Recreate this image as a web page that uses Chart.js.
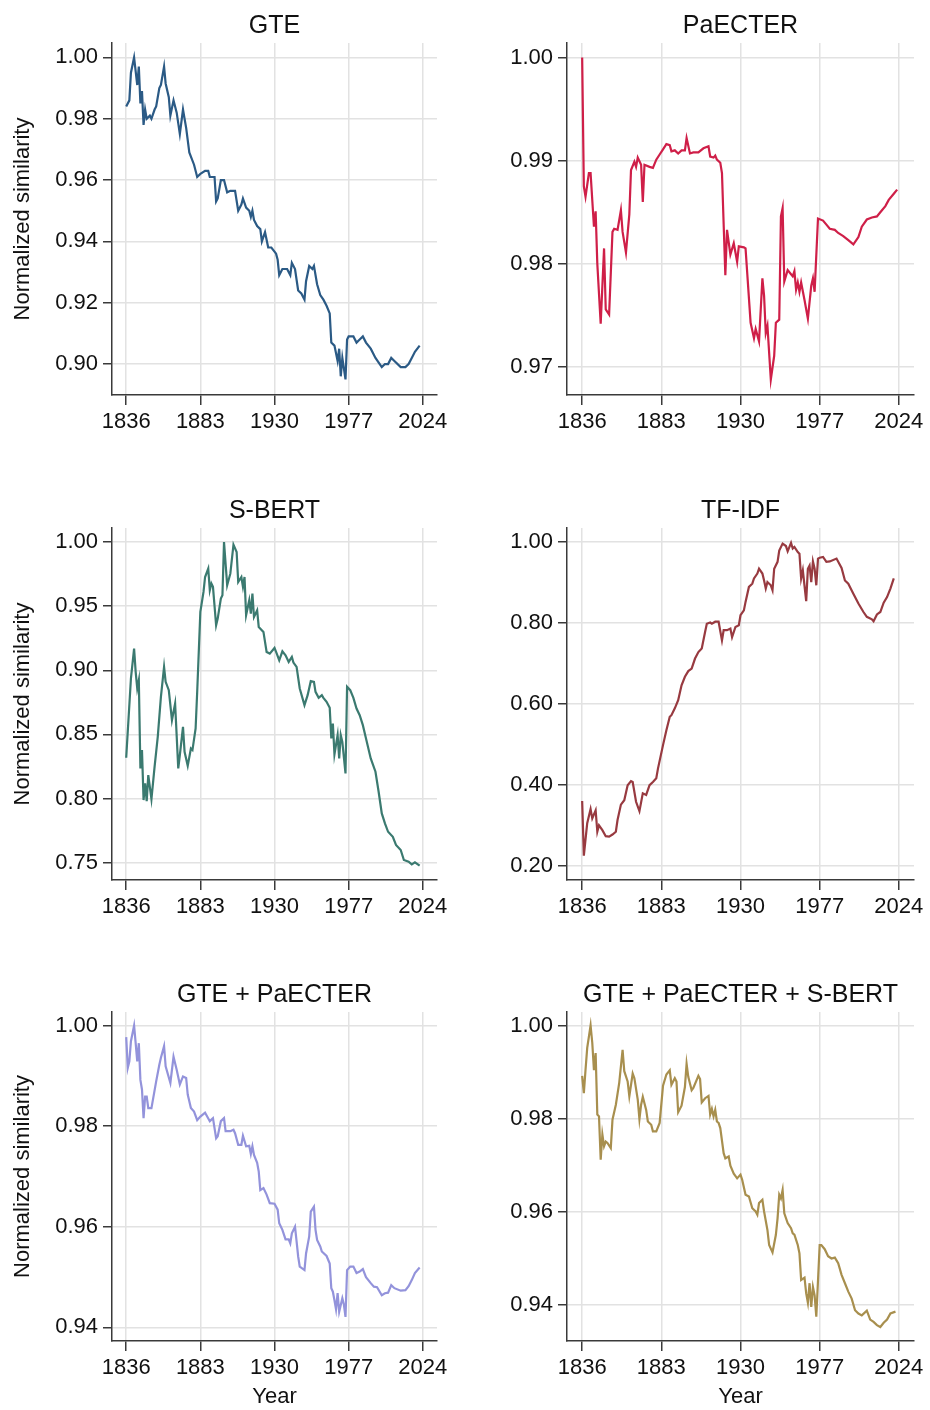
<!DOCTYPE html>
<html>
<head>
<meta charset="utf-8">
<title>Normalized similarity by year</title>
<script src="https://cdn.jsdelivr.net/npm/chart.js@4"></script>
<style>
  body { margin: 0; background: #fff; }
  #grid { position: relative; width: 930px; height: 1410px; }
  #grid canvas { position: absolute; }
</style>
</head>
<body>
<div id="grid">
  <canvas id="gte" width="465" height="440" style="left:0;top:0"></canvas>
  <canvas id="paecter" width="465" height="440" style="left:465px;top:0"></canvas>
  <canvas id="sbert" width="465" height="440" style="left:0;top:485px"></canvas>
  <canvas id="tfidf" width="465" height="440" style="left:465px;top:485px"></canvas>
  <canvas id="gte_paecter" width="465" height="441" style="left:0;top:969px"></canvas>
  <canvas id="gte_paecter_sbert" width="465" height="441" style="left:465px;top:969px"></canvas>
</div>
<script>
const FONT = '"Liberation Sans", Arial, Helvetica, sans-serif';

const yearTicks = [1836, 1883, 1930, 1977, 2024];

// GTE
const gteYears = [1836,1838,1839,1841,1843,1844,1845,1846,1847,1848,1849,1851,1852,1854,1855,1857,1858,1860,1861,1863,1864,1866,1868,1870,1872,1874,1876,1879,1881,1883,1886,1888,1889,1892,1893,1894,1896,1898,1900,1902,1905,1907,1909,1910,1912,1914,1915,1916,1917,1919,1921,1922,1924,1926,1928,1931,1932,1933,1935,1937,1938,1940,1941,1943,1945,1947,1949,1950,1952,1954,1955,1957,1959,1961,1963,1965,1966,1968,1970,1971,1972,1973,1975,1976,1977,1980,1982,1984,1986,1988,1991,1994,1998,2000,2002,2004,2006,2010,2013,2015,2017,2019,2022];
const gteValues = [0.984,0.986,0.995,1.000,0.991,0.997,0.985,0.989,0.978,0.983,0.980,0.981,0.980,0.983,0.984,0.990,0.991,0.997,0.9915,0.987,0.981,0.986,0.982,0.975,0.983,0.977,0.969,0.965,0.961,0.962,0.963,0.963,0.961,0.961,0.953,0.954,0.960,0.960,0.956,0.9565,0.9565,0.950,0.952,0.954,0.951,0.950,0.948,0.950,0.947,0.945,0.944,0.940,0.943,0.938,0.938,0.936,0.934,0.929,0.931,0.931,0.931,0.929,0.933,0.931,0.924,0.923,0.921,0.927,0.932,0.931,0.932,0.926,0.9225,0.921,0.919,0.9165,0.907,0.906,0.901,0.905,0.896,0.902,0.895,0.908,0.909,0.909,0.907,0.908,0.909,0.907,0.905,0.902,0.899,0.900,0.900,0.902,0.901,0.899,0.899,0.900,0.902,0.904,0.906];
const gteTicks = [0.90, 0.92, 0.94, 0.96, 0.98, 1.00];

// PaECTER
const paecterYears = [1836,1837,1838,1840,1841,1843,1844,1845,1847,1849,1850,1852,1854,1855,1857,1859,1860,1862,1864,1865,1867,1868,1869,1871,1872,1873,1876,1878,1880,1882,1884,1886,1888,1889,1891,1893,1895,1897,1898,1900,1902,1905,1908,1911,1912,1914,1915,1916,1918,1919,1921,1922,1924,1926,1927,1928,1929,1932,1933,1936,1938,1939,1941,1943,1944,1945,1946,1948,1950,1951,1953,1954,1955,1956,1958,1960,1961,1962,1963,1964,1965,1966,1968,1970,1972,1973,1974,1976,1979,1981,1983,1986,1988,1991,1994,1997,2000,2002,2005,2008,2011,2013,2016,2018,2021,2023];
const paecterValues = [1.000,0.9875,0.9865,0.9888,0.9888,0.9836,0.9851,0.9800,0.9742,0.9815,0.9756,0.9751,0.9831,0.9834,0.9833,0.9852,0.9831,0.9811,0.9848,0.9891,0.9899,0.9894,0.9903,0.9896,0.9860,0.9896,0.9894,0.9893,0.9901,0.9906,0.9911,0.9916,0.9915,0.9909,0.9910,0.9907,0.9910,0.9910,0.9922,0.9907,0.9908,0.9908,0.9912,0.9914,0.9904,0.9903,0.9905,0.9901,0.9898,0.9888,0.9789,0.9833,0.9809,0.9820,0.9811,0.9802,0.9817,0.9816,0.9815,0.9743,0.9728,0.9737,0.9725,0.9786,0.9769,0.9733,0.9740,0.9688,0.9711,0.9743,0.9746,0.9846,0.9854,0.9783,0.9794,0.9790,0.9788,0.9793,0.9775,0.9782,0.9773,0.9782,0.9765,0.9747,0.9779,0.9786,0.9773,0.9844,0.9842,0.9838,0.9834,0.9833,0.9830,0.9827,0.9823,0.9819,0.9826,0.9836,0.9843,0.9845,0.9846,0.9850,0.9856,0.9862,0.9868,0.9872];
const paecterTicks = [0.97, 0.98, 0.99, 1.00];

// S-BERT
const sbertYears = [1836,1839,1841,1842,1843,1844,1845,1846,1847,1848,1849,1850,1852,1854,1856,1858,1860,1861,1863,1865,1867,1869,1870,1872,1873,1875,1877,1878,1880,1881,1883,1885,1886,1888,1889,1890,1891,1893,1894,1896,1897,1898,1900,1902,1904,1906,1907,1909,1910,1911,1912,1914,1915,1916,1917,1919,1920,1923,1925,1927,1930,1931,1933,1935,1937,1939,1941,1942,1944,1946,1949,1951,1953,1955,1956,1958,1960,1961,1963,1965,1966,1967,1968,1970,1971,1972,1973,1975,1976,1978,1980,1982,1984,1986,1988,1991,1994,1996,1998,2000,2002,2005,2007,2010,2012,2015,2017,2019,2022];
const sbertValues = [0.8318,0.8936,0.9169,0.8988,0.8858,0.8923,0.8235,0.8378,0.7988,0.8118,0.7980,0.8183,0.7996,0.8248,0.8481,0.8793,0.9026,0.8910,0.8845,0.8611,0.8741,0.8235,0.8339,0.8559,0.8365,0.8255,0.8390,0.8378,0.8546,0.8832,0.9455,0.9611,0.9727,0.9792,0.9624,0.9676,0.9650,0.9351,0.9403,0.9559,0.9585,1.000,0.9663,0.9753,0.9979,0.9922,0.9688,0.9727,0.9650,0.9727,0.9429,0.9546,0.9442,0.9598,0.9416,0.9468,0.9338,0.9299,0.9143,0.9130,0.9174,0.9143,0.9078,0.9148,0.9117,0.9065,0.9104,0.9060,0.9026,0.8858,0.8728,0.8806,0.8915,0.8910,0.8832,0.8785,0.8806,0.8785,0.8754,0.8707,0.8468,0.8585,0.8344,0.8494,0.8313,0.8494,0.8442,0.8196,0.8871,0.8845,0.8785,0.8702,0.8650,0.8572,0.8468,0.8313,0.8209,0.8053,0.7884,0.7806,0.7741,0.7702,0.7638,0.7599,0.7521,0.7508,0.7487,0.7503,0.7477];
const sbertTicks = [0.75, 0.80, 0.85, 0.90, 0.95, 1.00];

// TF-IDF
const tfidfYears = [1836,1837,1839,1841,1842,1844,1845,1846,1848,1850,1852,1854,1856,1857,1859,1861,1863,1865,1866,1868,1870,1872,1874,1876,1878,1880,1881,1884,1886,1888,1889,1891,1893,1895,1897,1899,1901,1903,1905,1907,1909,1910,1912,1913,1915,1917,1919,1920,1922,1924,1925,1927,1929,1930,1932,1933,1935,1937,1938,1940,1941,1943,1944,1945,1946,1948,1949,1950,1952,1953,1955,1957,1958,1960,1961,1962,1964,1965,1966,1967,1969,1970,1971,1972,1973,1974,1975,1976,1977,1979,1981,1983,1987,1990,1992,1994,1997,2000,2003,2005,2008,2009,2011,2013,2015,2017,2019,2021];
const tfidfValues = [0.360,0.225,0.305,0.340,0.317,0.337,0.284,0.300,0.288,0.273,0.272,0.277,0.284,0.313,0.351,0.362,0.399,0.409,0.407,0.358,0.335,0.379,0.375,0.399,0.407,0.416,0.440,0.498,0.535,0.568,0.572,0.589,0.609,0.646,0.667,0.681,0.687,0.712,0.728,0.737,0.778,0.798,0.801,0.798,0.803,0.803,0.757,0.782,0.782,0.786,0.765,0.790,0.794,0.819,0.831,0.852,0.889,0.897,0.910,0.922,0.934,0.922,0.905,0.885,0.901,0.893,0.881,0.934,0.951,0.979,0.996,0.990,0.977,0.998,0.984,0.988,0.975,0.971,0.910,0.930,0.854,0.934,0.942,0.901,0.952,0.934,0.893,0.959,0.961,0.963,0.951,0.952,0.959,0.936,0.905,0.897,0.872,0.848,0.827,0.815,0.809,0.804,0.821,0.827,0.850,0.864,0.885,0.910];
const tfidfTicks = [0.20, 0.40, 0.60, 0.80, 1.00];

// GTE + PaECTER
const gpYears = [1836,1837,1838,1839,1841,1842,1843,1844,1845,1846,1847,1848,1849,1850,1852,1855,1857,1858,1860,1861,1864,1866,1868,1870,1872,1874,1875,1877,1879,1881,1883,1886,1889,1891,1893,1894,1896,1898,1899,1902,1904,1905,1907,1909,1910,1912,1914,1915,1916,1917,1919,1920,1921,1923,1925,1927,1930,1932,1933,1935,1937,1939,1940,1941,1943,1944,1945,1946,1949,1950,1952,1953,1955,1956,1957,1959,1960,1963,1965,1966,1967,1968,1969,1970,1971,1973,1974,1975,1976,1978,1980,1982,1984,1986,1988,1991,1993,1995,1998,2000,2002,2004,2006,2010,2013,2015,2017,2019,2022];
const gpValues = [0.9977,0.9916,0.9929,0.9969,1.000,0.9965,0.9929,0.9965,0.9892,0.9873,0.9816,0.9859,0.9859,0.9836,0.9836,0.9889,0.9922,0.9936,0.9959,0.9919,0.9886,0.9938,0.9912,0.9883,0.9899,0.9896,0.9863,0.9836,0.9829,0.9812,0.9819,0.9827,0.9810,0.9816,0.9776,0.9780,0.9810,0.9816,0.9790,0.9790,0.9793,0.9786,0.9763,0.9763,0.9781,0.9760,0.9761,0.9745,0.9760,0.9743,0.9727,0.9710,0.9673,0.9677,0.9664,0.9647,0.9646,0.9634,0.9607,0.9594,0.9575,0.9575,0.9567,0.9587,0.9600,0.9571,0.9541,0.9521,0.9514,0.9547,0.9581,0.9630,0.9640,0.9594,0.9574,0.9561,0.9551,0.9542,0.9527,0.9478,0.9471,0.9454,0.9436,0.9468,0.9431,0.9458,0.9445,0.9421,0.9514,0.9521,0.9521,0.9508,0.9511,0.9516,0.9500,0.9488,0.9481,0.9480,0.9464,0.9468,0.9469,0.9484,0.9478,0.9473,0.9474,0.9482,0.9494,0.9508,0.9519];
const gpTicks = [0.94, 0.96, 0.98, 1.00];

// GTE + PaECTER + S-BERT
const gpsYears = [1836,1837,1838,1839,1841,1842,1843,1844,1845,1846,1847,1848,1849,1850,1851,1853,1854,1856,1858,1860,1861,1863,1864,1866,1867,1869,1870,1871,1872,1874,1875,1877,1878,1880,1882,1884,1886,1888,1889,1891,1892,1893,1895,1897,1898,1899,1901,1902,1905,1906,1907,1909,1911,1912,1913,1914,1915,1916,1917,1918,1920,1921,1923,1924,1926,1928,1930,1931,1933,1935,1937,1939,1940,1941,1943,1944,1946,1947,1949,1951,1952,1953,1954,1955,1956,1958,1960,1961,1962,1964,1965,1966,1968,1969,1970,1971,1972,1973,1974,1975,1977,1978,1980,1982,1984,1986,1988,1990,1992,1994,1996,1998,2000,2002,2005,2007,2009,2011,2013,2015,2017,2019,2022];
const gpsValues = [0.9892,0.9855,0.9905,0.9952,1.000,0.9963,0.9904,0.9941,0.9809,0.9805,0.9712,0.9766,0.9741,0.9751,0.9748,0.9737,0.9798,0.9830,0.9877,0.9948,0.9902,0.9880,0.9848,0.9897,0.9887,0.9841,0.9799,0.9830,0.9847,0.9819,0.9794,0.9787,0.9773,0.9773,0.9791,0.9871,0.9895,0.9904,0.9873,0.9887,0.9880,0.9814,0.9828,0.9868,0.9918,0.9890,0.9861,0.9866,0.9892,0.9885,0.9835,0.9844,0.9849,0.9809,0.9821,0.9805,0.9819,0.9794,0.9791,0.9780,0.9726,0.9715,0.9719,0.9699,0.9682,0.9672,0.9680,0.9669,0.9637,0.9633,0.9608,0.9601,0.9594,0.9619,0.9626,0.9601,0.9561,0.9529,0.9513,0.9551,0.9586,0.9637,0.9629,0.9647,0.9597,0.9576,0.9565,0.9554,0.9551,0.9529,0.9511,0.9454,0.9459,0.9425,0.9405,0.9447,0.9396,0.9439,0.9421,0.9375,0.9529,0.9529,0.9520,0.9505,0.9500,0.9502,0.9490,0.9465,0.9447,0.9429,0.9414,0.9389,0.9382,0.9378,0.9388,0.9369,0.9364,0.9357,0.9353,0.9362,0.9369,0.9382,0.9386];
const gpsTicks = [0.94, 0.96, 0.98, 1.00];

const panels = [
  { id: 'gte', title: 'GTE', color: '#2b5a85', years: gteYears, values: gteValues, ticks: gteTicks, min: 0.8899, max: 1.0047, left: true, bottom: false },
  { id: 'paecter', title: 'PaECTER', color: '#cf1f48', years: paecterYears, values: paecterValues, ticks: paecterTicks, min: 0.9673, max: 1.0014, left: false, bottom: false },
  { id: 'sbert', title: 'S-BERT', color: '#3b7a70', years: sbertYears, values: sbertValues, ticks: sbertTicks, min: 0.7365, max: 1.0109, left: true, bottom: false },
  { id: 'tfidf', title: 'TF-IDF', color: '#983a40', years: tfidfYears, values: tfidfValues, ticks: tfidfTicks, min: 0.1647, max: 1.0346, left: false, bottom: false },
  { id: 'gte_paecter', title: 'GTE + PaECTER', color: '#9393db', years: gpYears, values: gpValues, ticks: gpTicks, min: 0.9373, max: 1.0027, left: true, bottom: true },
  { id: 'gte_paecter_sbert', title: 'GTE + PaECTER + S-BERT', color: '#a88f4e', years: gpsYears, values: gpsValues, ticks: gpsTicks, min: 0.9323, max: 1.0029, left: false, bottom: true },
];

function toPoints(years, values) {
  return years.map((year, i) => ({ x: year, y: values[i] }));
}

function createChart(p) {
  const ctx = document.getElementById(p.id).getContext('2d');
  const axisColor = '#3a3a3a';
  const gridColor = '#e2e2e2';

  return new Chart(ctx, {
    type: 'line',
    data: {
      datasets: [{
        data: toPoints(p.years, p.values),
        borderColor: p.color,
        borderWidth: 2.2,
        pointRadius: 0,
        tension: 0,
        fill: false,
      }],
    },
    options: {
      responsive: false,
      animation: false,
      layout: { padding: { left: 0, right: p.left ? 28 : 16, top: 0, bottom: 0 } },
      scales: {
        x: {
          type: 'linear',
          min: 1827,
          max: 2033,
          afterBuildTicks: scale => { scale.ticks = yearTicks.map(v => ({ value: v })); },
          afterFit: scale => { scale.height = p.bottom ? 69 : 45; },
          ticks: {
            font: { family: FONT, size: 22 },
            color: '#111',
            padding: 4,
            maxRotation: 0,
            callback: v => String(v),
          },
          grid: { color: gridColor, lineWidth: 1.5, tickLength: 10, tickColor: axisColor, tickWidth: 1.5 },
          border: { display: true, color: axisColor, width: 1.5 },
          title: {
            display: p.bottom,
            text: 'Year',
            font: { family: FONT, size: 22 },
            color: '#111',
            padding: { top: 0, bottom: 0 },
          },
        },
        y: {
          type: 'linear',
          min: p.min,
          max: p.max,
          afterBuildTicks: scale => { scale.ticks = p.ticks.map(v => ({ value: v })); },
          afterFit: scale => { scale.width = p.left ? 112 : 102; },
          ticks: {
            font: { family: FONT, size: 22 },
            color: '#111',
            padding: 5,
            callback: v => v.toFixed(2),
          },
          grid: { color: gridColor, lineWidth: 1.5, tickLength: 9, tickColor: axisColor, tickWidth: 1.5 },
          border: { display: true, color: axisColor, width: 1.5 },
          title: {
            display: p.left,
            text: 'Normalized similarity',
            font: { family: FONT, size: 22 },
            color: '#111',
            padding: { top: 10, bottom: 0 },
          },
        },
      },
      plugins: {
        legend: { display: false },
        tooltip: { enabled: false },
        title: {
          display: true,
          fullSize: false,
          text: p.title,
          font: { family: FONT, size: 25, weight: 'normal' },
          color: '#111',
          padding: { top: 11, bottom: 2 },
        },
      },
    },
  });
}

panels.forEach(createChart);
</script>
</body>
</html>
